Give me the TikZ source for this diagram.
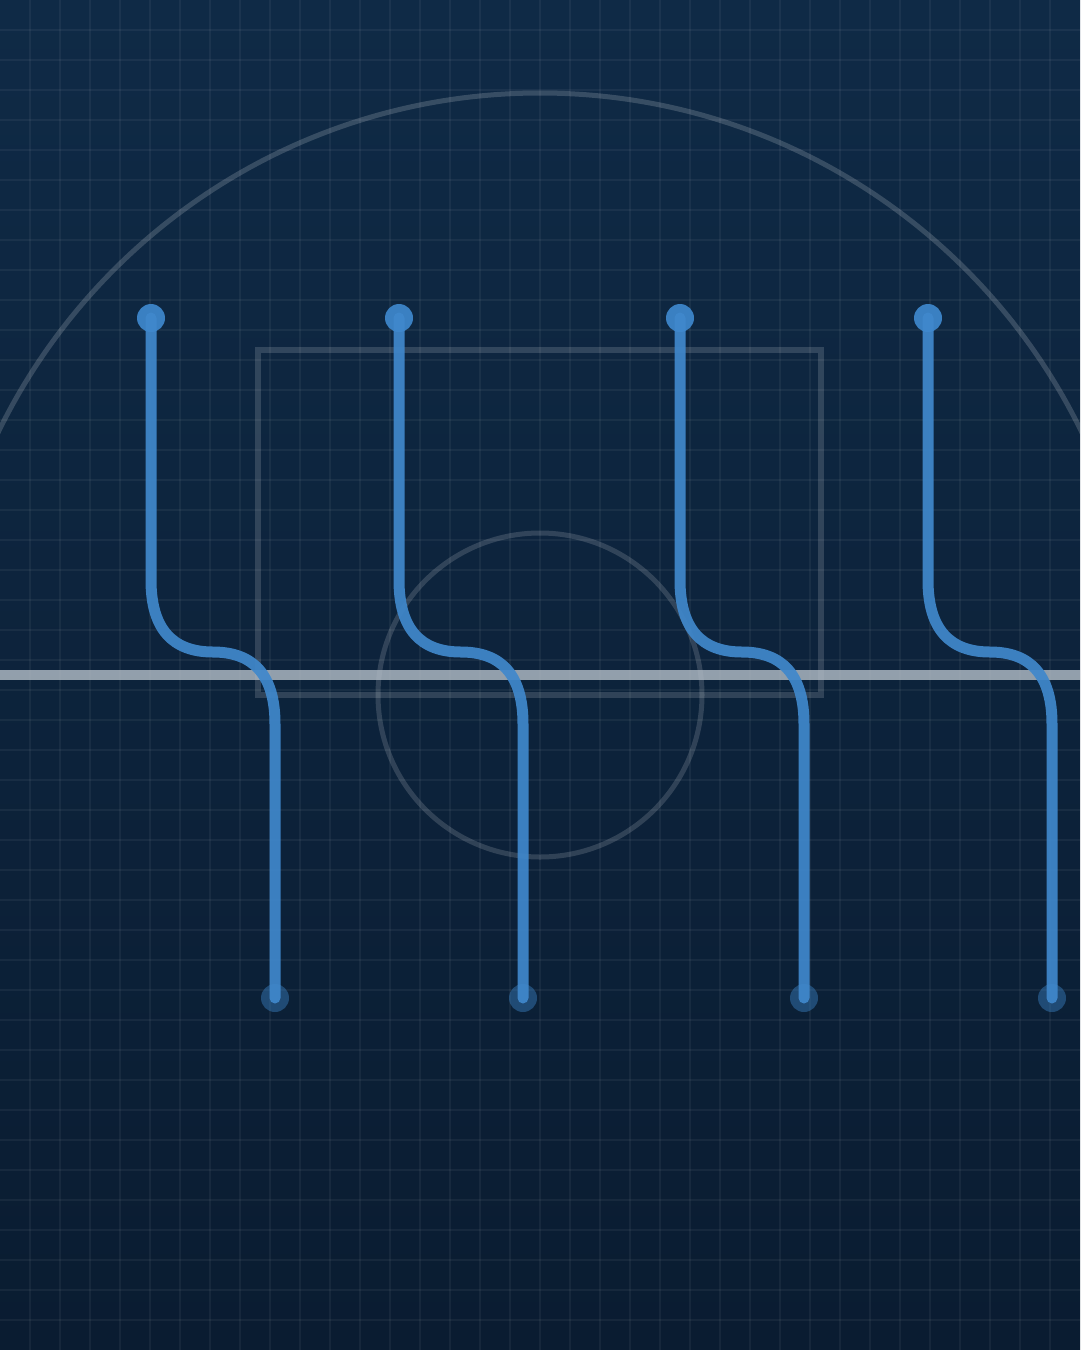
\documentclass[tikz,border=0pt]{standalone}
\begin{document}
\begin{tikzpicture}[x=1pt,y=-1pt]
\definecolor{bgtop}{HTML}{0F2A46}
\definecolor{bgbot}{HTML}{0A1C31}
\definecolor{wireblue}{HTML}{4088CC}
\definecolor{dotblue}{HTML}{3A80C2}
\definecolor{baseline}{HTML}{B4BEC8}
\tikzset{
  gridline/.style={draw=white,draw opacity=0.05,line width=1.5pt},
  faint/.style={draw=white,draw opacity=0.17,line width=5pt},
  wire/.style={draw=wireblue,draw opacity=0.92,line width=11pt,line cap=round,line join=round},
  startdot/.style={circle,fill=dotblue,inner sep=0pt,minimum size=28pt},
  enddot/.style={circle,fill=dotblue,fill opacity=0.45,inner sep=0pt,minimum size=28pt}
}
\useasboundingbox (0,0) rectangle (1080,1350);
\shade[top color=bgtop,bottom color=bgbot] (0,0) rectangle (1080,1350);
\begin{scope}
\clip (0,0) rectangle (1080,1350);
\foreach \i in {30,60,...,1050} \draw[gridline] (\i,0) -- (\i,1350);
\foreach \j in {30,60,...,1320} \draw[gridline] (0,\j) -- (1080,\j);
\draw[faint] (-62,695) arc[start angle=180,end angle=360,radius=602];
\draw[faint,line width=6pt,draw opacity=0.15] (258,350) rectangle (821,695);
\draw[faint,draw opacity=0.15] (540,695) circle[radius=162];
\draw[draw=baseline,draw opacity=0.8,line width=10pt] (0,675) -- (1080,675);
\foreach \x/\n in {151/1,399/2,680/3,928/4}{
  \node[startdot] (s\n) at (\x,318) {};
  \node[enddot] (e\n) at (\x+124,998) {};
  \draw[wire] (s\n.center) -- (\x,580) .. controls (\x,628) and (\x+20.7,652) .. (\x+62,652)
     .. controls (\x+103.3,652) and (\x+124,676) .. (\x+124,724) -- (e\n.center);
}
\end{scope}
\end{tikzpicture}
\end{document}
